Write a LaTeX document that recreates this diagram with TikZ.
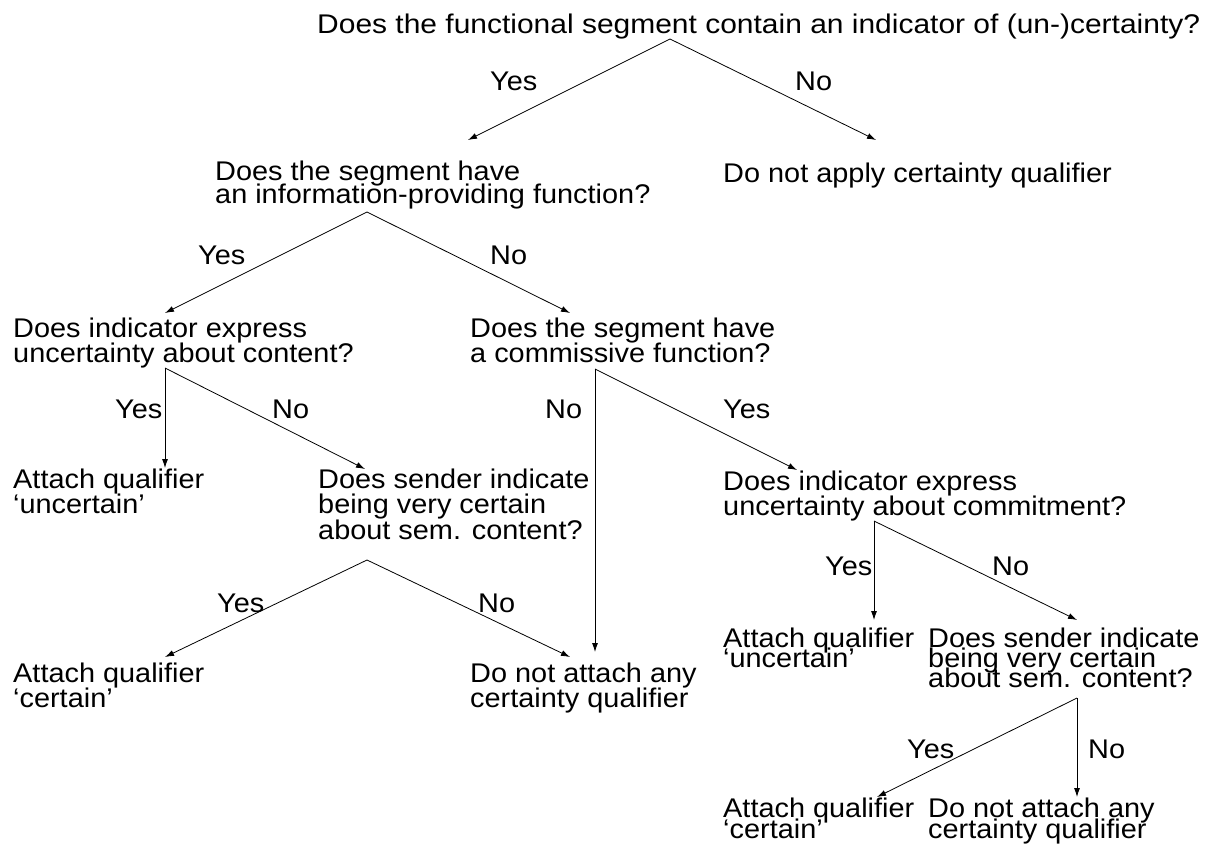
\documentclass[tikz,border=0pt]{standalone}
\usepackage{fontspec}
\setmainfont[FakeStretch=1.07]{Liberation Sans}
\newfontfamily\widefont[FakeStretch=1.11]{Liberation Sans}
\usetikzlibrary{arrows.meta}
\newcommand\stk[2]{\vtop{\baselineskip=#1\lineskiplimit=-1000pt\lineskip=0pt\relax #2}}
\begin{document}
\begin{tikzpicture}[x=1pt,y=-1pt,
  txt/.style={anchor=base west,inner sep=0pt,font=\fontsize{27}{25}\selectfont},
  lbl/.style={anchor=base west,inner sep=0pt,font=\fontsize{27}{25}\selectfont},
  arr/.style={-{Latex[length=9pt,width=6pt]},line width=0.8pt}]
\useasboundingbox[fill=white] (0,0) rectangle (1210,846);

% level 1
\node[txt,font=\widefont\fontsize{27}{25}\selectfont] (q1) at (317,33) {Does the functional segment contain an indicator of (un-)certainty?};
\coordinate (q1s) at (670,39);
\coordinate (q1y) at (468,140);
\coordinate (q1n) at (876,140);
\draw[arr] (q1s) -- (q1y);
\draw[arr] (q1s) -- (q1n);
\node[lbl] (l1y) at (490,90) {Yes};
\node[lbl] (l1n) at (795,90) {No};

% level 2
\node[txt] (q2) at (215,180) {\stk{23pt}{\hbox{Does the segment have}\hbox{an information-providing function?}}};
\node[txt] (d1) at (723,182) {Do not apply certainty qualifier};
\coordinate (q2s) at (367,212);
\coordinate (q2y) at (165,313);
\coordinate (q2n) at (570,313);
\draw[arr] (q2s) -- (q2y);
\draw[arr] (q2s) -- (q2n);
\node[lbl] (l2y) at (198,264) {Yes};
\node[lbl] (l2n) at (490,264) {No};

% level 3
\node[txt] (q3) at (13,337) {\stk{25pt}{\hbox{Does indicator express}\hbox{uncertainty about content?}}};
\node[txt] (q4) at (470,337) {\stk{25pt}{\hbox{Does the segment have}\hbox{a commissive function?}}};
\coordinate (q3s) at (165,368);
\coordinate (q3y) at (165,468);
\coordinate (q3n) at (365,469);
\draw[arr] (q3s) -- (q3y);
\draw[arr] (q3s) -- (q3n);
\node[lbl] (l3y) at (115,418) {Yes};
\node[lbl] (l3n) at (272,418) {No};
\coordinate (q4s) at (595,369);
\coordinate (q4n) at (595,652);
\coordinate (q4y) at (797,470);
\draw[arr] (q4s) -- (q4n);
\draw[arr] (q4s) -- (q4y);
\node[lbl] (l4n) at (545,418) {No};
\node[lbl] (l4y) at (723,418) {Yes};

% level 4
\node[txt] (a1) at (13,488) {\stk{25pt}{\hbox{Attach qualifier}\hbox{‘uncertain’}}};
\node[txt] (q5) at (318,488) {\stk{25.5pt}{\hbox{Does sender indicate}\hbox{being very certain}\hbox{about sem. content?}}};
\node[txt] (q6) at (723,490) {\stk{25pt}{\hbox{Does indicator express}\hbox{uncertainty about commitment?}}};
\coordinate (q5s) at (367,560);
\coordinate (q5y) at (165,657);
\coordinate (q5n) at (570,657);
\draw[arr] (q5s) -- (q5y);
\draw[arr] (q5s) -- (q5n);
\node[lbl] (l5y) at (217,612) {Yes};
\node[lbl] (l5n) at (478,612) {No};
\coordinate (q6s) at (874,521);
\coordinate (q6y) at (874,620);
\coordinate (q6n) at (1077,620);
\draw[arr] (q6s) -- (q6y);
\draw[arr] (q6s) -- (q6n);
\node[lbl] (l6y) at (825,575) {Yes};
\node[lbl] (l6n) at (992,575) {No};

% level 5
\node[txt] (a2) at (13,682) {\stk{25pt}{\hbox{Attach qualifier}\hbox{‘certain’}}};
\node[txt] (a3) at (470,682) {\stk{25pt}{\hbox{Do not attach any}\hbox{certainty qualifier}}};
\node[txt] (a4) at (723,647) {\stk{20pt}{\hbox{Attach qualifier}\hbox{‘uncertain’}}};
\node[txt] (q7) at (928,647) {\stk{20pt}{\hbox{Does sender indicate}\hbox{being very certain}\hbox{about sem. content?}}};
\coordinate (q7s) at (1077,698);
\coordinate (q7y) at (877,797);
\coordinate (q7n) at (1077,797);
\draw[arr] (q7s) -- (q7y);
\draw[arr] (q7s) -- (q7n);
\node[lbl] (l7y) at (907,758) {Yes};
\node[lbl] (l7n) at (1088,758) {No};

% level 6
\node[txt] (a5) at (723,817) {\stk{21pt}{\hbox{Attach qualifier}\hbox{‘certain’}}};
\node[txt] (a6) at (928,817) {\stk{21pt}{\hbox{Do not attach any}\hbox{certainty qualifier}}};
\end{tikzpicture}
\end{document}
